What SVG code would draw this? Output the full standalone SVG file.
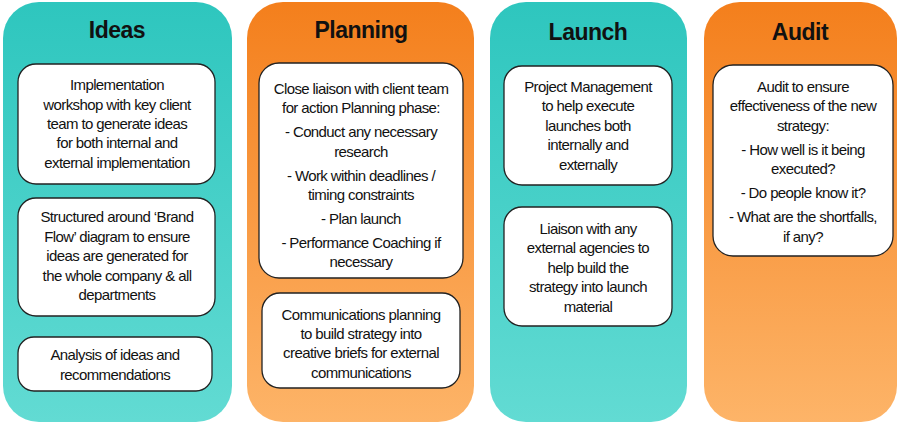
<svg xmlns="http://www.w3.org/2000/svg" width="900" height="424" viewBox="0 0 900 424">
<defs>
<linearGradient id="teal" x1="0" y1="0" x2="0" y2="1"><stop offset="0" stop-color="#2ec6be"/><stop offset="1" stop-color="#62dbd3"/></linearGradient>
<linearGradient id="orange" x1="0" y1="0" x2="0" y2="1"><stop offset="0" stop-color="#f47f1c"/><stop offset="1" stop-color="#fdb468"/></linearGradient>
</defs>
<style>
.t{font-family:"Liberation Sans",Arial,sans-serif;font-size:23px;font-weight:bold;fill:#111;text-anchor:middle;letter-spacing:-0.5px}
.b{fill:#fff;stroke:#222;stroke-width:1.3}
.x{font-family:"Liberation Sans",Arial,sans-serif;font-size:15px;fill:#111;text-anchor:middle;letter-spacing:-0.6px}
</style>
<g id="ideas">
<rect x="3" y="2" width="229" height="420" rx="36" fill="url(#teal)"/>
<text class="t" x="117" y="38">Ideas</text>
<rect class="b" x="18" y="64" width="197" height="120" rx="18"/>
<text class="x"><tspan x="117" y="90">Implementation</tspan><tspan x="117" y="110">workshop with key client</tspan><tspan x="117" y="129">team to generate ideas</tspan><tspan x="117" y="148">for both internal and</tspan><tspan x="117" y="168">external implementation</tspan></text>
<rect class="b" x="18" y="198" width="197" height="118" rx="18"/>
<text class="x"><tspan x="117" y="222">Structured around ‘Brand</tspan><tspan x="117" y="242">Flow’ diagram to ensure</tspan><tspan x="117" y="261">ideas are generated for</tspan><tspan x="117" y="281">the whole company &amp; all</tspan><tspan x="117" y="300">departments</tspan></text>
<rect class="b" x="18" y="337" width="194" height="54" rx="16"/>
<text class="x"><tspan x="115" y="360">Analysis of ideas and</tspan><tspan x="115" y="380">recommendations</tspan></text>
</g>
<g id="planning">
<rect x="247" y="2" width="227" height="420" rx="36" fill="url(#orange)"/>
<text class="t" x="361" y="38">Planning</text>
<rect class="b" x="259" y="63" width="204" height="215" rx="20"/>
<text class="x"><tspan x="361" y="94">Close liaison with client team</tspan><tspan x="361" y="113">for action Planning phase:</tspan><tspan x="361" y="137">- Conduct any necessary</tspan><tspan x="361" y="157">research</tspan><tspan x="361" y="181">- Work within deadlines /</tspan><tspan x="361" y="200">timing constraints</tspan><tspan x="361" y="224">- Plan launch</tspan><tspan x="361" y="248">- Performance Coaching if</tspan><tspan x="361" y="267">necessary</tspan></text>
<rect class="b" x="262" y="293" width="198" height="95" rx="18"/>
<text class="x"><tspan x="361" y="320">Communications planning</tspan><tspan x="361" y="339">to build strategy into</tspan><tspan x="361" y="358">creative briefs for external</tspan><tspan x="361" y="378">communications</tspan></text>
</g>
<g id="launch">
<rect x="490" y="2" width="197" height="420" rx="36" fill="url(#teal)"/>
<text class="t" x="588" y="40">Launch</text>
<rect class="b" x="504" y="66" width="168" height="119" rx="18"/>
<text class="x"><tspan x="588" y="92">Project Management</tspan><tspan x="588" y="111">to help execute</tspan><tspan x="588" y="131">launches both</tspan><tspan x="588" y="150">internally and</tspan><tspan x="588" y="170">externally</tspan></text>
<rect class="b" x="504" y="207" width="168" height="119" rx="18"/>
<text class="x"><tspan x="588" y="234">Liaison with any</tspan><tspan x="588" y="253">external agencies to</tspan><tspan x="588" y="273">help build the</tspan><tspan x="588" y="292">strategy into launch</tspan><tspan x="588" y="312">material</tspan></text>
</g>
<g id="audit">
<rect x="704" y="2" width="193" height="420" rx="36" fill="url(#orange)"/>
<text class="t" x="800" y="40">Audit</text>
<rect class="b" x="713" y="65" width="180" height="191" rx="20"/>
<text class="x"><tspan x="803" y="92">Audit to ensure</tspan><tspan x="803" y="111">effectiveness of the new</tspan><tspan x="803" y="131">strategy:</tspan><tspan x="803" y="155">- How well is it being</tspan><tspan x="803" y="174">executed?</tspan><tspan x="803" y="198">- Do people know it?</tspan><tspan x="803" y="222">- What are the shortfalls,</tspan><tspan x="803" y="242">if any?</tspan></text>
</g>
<g id="connectors"/>
</svg>
